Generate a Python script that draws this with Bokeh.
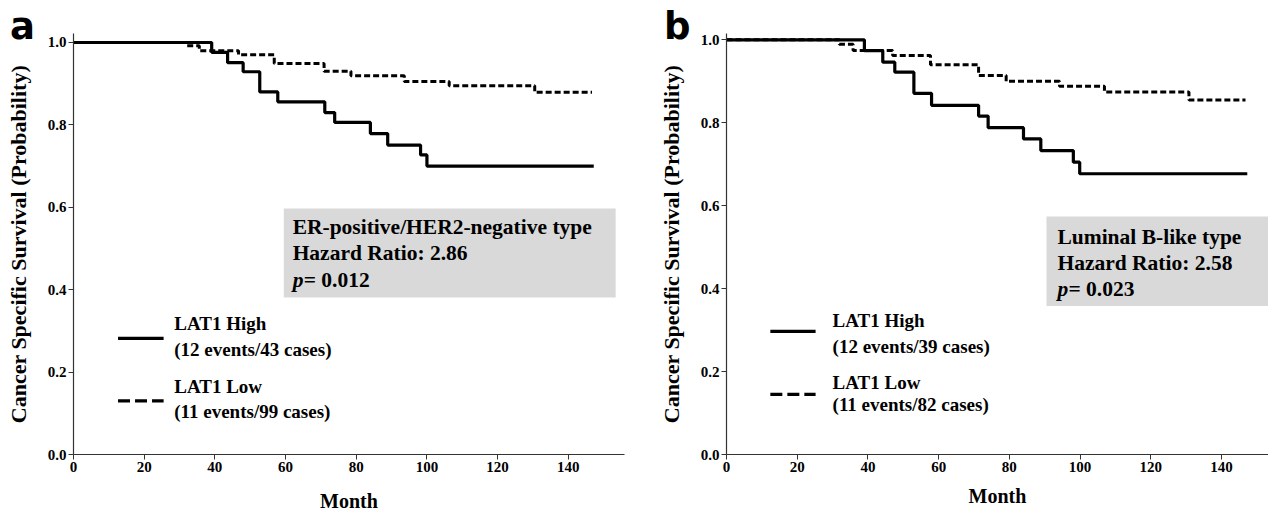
from bokeh.plotting import figure
from bokeh.layouts import row
from bokeh.models import Range1d, FixedTicker, PrintfTickFormatter, Div
from bokeh.core.properties import value
from bokeh.embed import file_html
from bokeh.resources import INLINE

# ---------------- data ----------------
# Panel a: ER-positive/HER2-negative type
a_high_month = [0, 39.1, 43.6, 48.0, 52.7, 57.8, 71.1, 73.9, 84.0, 88.9, 98.2, 100.0, 147.2]
a_high_surv = [1.0, 0.976, 0.951, 0.929, 0.880, 0.856, 0.830, 0.806, 0.779, 0.751, 0.727, 0.700, 0.700]
a_low_month = [0, 32.0, 35.6, 46.7, 56.8, 70.9, 78.5, 93.6, 106.3, 130.5, 146.7]
a_low_surv = [1.0, 0.992, 0.980, 0.970, 0.949, 0.930, 0.919, 0.905, 0.895, 0.879, 0.879]

# Panel b: Luminal B-like type
b_high_month = [0, 39.0, 44.2, 47.6, 53.0, 58.0, 71.3, 74.0, 84.0, 88.9, 98.1, 99.9, 147.3]
b_high_surv = [1.0, 0.974, 0.946, 0.922, 0.871, 0.842, 0.816, 0.788, 0.761, 0.733, 0.705, 0.677, 0.677]
b_low_month = [0, 31.9, 35.8, 47.0, 57.7, 71.3, 79.1, 94.2, 106.9, 130.8, 146.8]
b_low_surv = [1.0, 0.989, 0.974, 0.962, 0.940, 0.914, 0.900, 0.888, 0.874, 0.855, 0.855]

x_ticks = [0, 20, 40, 60, 80, 100, 120, 140]
y_ticks = [0.0, 0.2, 0.4, 0.6, 0.8, 1.0]

a_box_lines = ["ER-positive/HER2-negative type", "Hazard Ratio: 2.86"]
a_p_value = "= 0.012"
a_legend = ["LAT1 High", " (12 events/43 cases)", "LAT1 Low", " (11 events/99 cases)"]

b_box_lines = ["Luminal B-like type", "Hazard Ratio: 2.58"]
b_p_value = "= 0.023"
b_legend = ["LAT1 High", " (12 events/39 cases)", "LAT1 Low", " (11 events/82 cases)"]

panel_letters = ["a", "b"]

SERIF = value("Liberation Serif")
H = 515


def make_panel(high_m, high_s, low_m, low_s, box_lines, pval, legend,
               width, left_border, right_border, x_end, y_end, month_standoff,
               box, text_x, text_rows, leg_x, leg_sample, leg_rows):
    p = figure(width=width, height=H, output_backend="svg", toolbar_location=None,
               x_range=Range1d(0, x_end), y_range=Range1d(0, y_end),
               min_border_left=left_border, min_border_right=right_border,
               min_border_top=33, min_border_bottom=H - 454)
    p.outline_line_color = None
    p.grid.visible = False
    p.background_fill_color = "white"

    for ax in (p.xaxis[0], p.yaxis[0]):
        ax.axis_line_color = "#333333"
        ax.axis_line_width = 1.2
        ax.major_tick_line_color = "#333333"
        ax.major_tick_out = 5
        ax.major_tick_in = 0
        ax.minor_tick_out = 0
        ax.minor_tick_in = 0
        ax.major_label_text_font = "Liberation Serif"
        ax.major_label_text_font_style = "bold"
        ax.major_label_text_font_size = "15px"
        ax.major_label_text_color = "black"
        ax.axis_label_text_font = "Liberation Serif"
        ax.axis_label_text_font_style = "bold"
        ax.axis_label_text_color = "black"
        ax.major_label_standoff = 2

    p.xaxis.ticker = FixedTicker(ticks=x_ticks)
    p.yaxis.ticker = FixedTicker(ticks=y_ticks)
    p.yaxis.formatter = PrintfTickFormatter(format="%.1f")
    p.xaxis.axis_label = "Month"
    p.xaxis.axis_label_text_font_size = "20px"
    p.xaxis.axis_label_standoff = month_standoff
    p.yaxis.axis_label = "Cancer Specific Survival (Probability)"
    p.yaxis.axis_label_text_font_size = "22px"
    p.yaxis.axis_label_standoff = 14

    # annotation box
    p.quad(left=[box[0]], right=[box[1]], bottom=[box[2]], top=[box[3]],
           fill_color="#d9d9d9", line_color=None)
    p.text(x=[text_x, text_x], y=text_rows[:2], text=box_lines,
           text_font=SERIF, text_font_style="bold", text_font_size="21.5px",
           text_baseline="middle", text_align="left", text_color="black")
    p.text(x=[text_x], y=[text_rows[2]], text=["p"],
           text_font=SERIF, text_font_style="bold italic", text_font_size="21.5px",
           text_baseline="middle", text_align="left", text_color="black")
    p.text(x=[text_x], y=[text_rows[2]], text=[pval], x_offset=11,
           text_font=SERIF, text_font_style="bold", text_font_size="21.5px",
           text_baseline="middle", text_align="left", text_color="black")

    # curves
    p.step(high_m, high_s, mode="after", line_color="black", line_width=3.2)
    p.step(low_m, low_s, mode="after", line_color="black", line_width=3,
           line_dash="6 3")

    # legend
    p.segment(x0=[leg_sample[0]], x1=[leg_sample[1]], y0=[leg_sample[2]], y1=[leg_sample[2]],
              line_color="black", line_width=3.2)
    p.segment(x0=[leg_sample[0]], x1=[leg_sample[1]], y0=[leg_sample[3]], y1=[leg_sample[3]],
              line_color="black", line_width=3.2, line_dash="12 5")
    p.text(x=[leg_x] * 4, y=leg_rows, text=legend,
           text_font=SERIF, text_font_style="bold", text_font_size="19px",
           text_baseline="middle", text_align="left", text_color="black")
    return p


pa = make_panel(a_high_month, a_high_surv, a_low_month, a_low_surv,
                a_box_lines, a_p_value, a_legend,
                width=648, left_border=73, right_border=24, x_end=155.9, y_end=1.0218,
                month_standoff=15,
                box=(59.5, 153.4, 0.381, 0.597), text_x=62.0,
                text_rows=[0.551, 0.488, 0.423],
                leg_x=28.5, leg_sample=(12.6, 25.5, 0.282, 0.130),
                leg_rows=[0.318, 0.254, 0.166, 0.104])

pb = make_panel(b_high_month, b_high_surv, b_low_month, b_low_surv,
                b_box_lines, b_p_value, b_legend,
                width=620, left_border=78, right_border=0, x_end=153.3, y_end=1.0152,
                month_standoff=10,
                box=(90.5, 153.3, 0.358, 0.574), text_x=93.6,
                text_rows=[0.524, 0.461, 0.398],
                leg_x=30.0, leg_sample=(12.4, 25.2, 0.297, 0.145),
                leg_rows=[0.324, 0.261, 0.174, 0.121])


def letter_div(letter, left, top):
    return Div(text=letter, width=44, height=44,
               styles={"position": "absolute", "left": f"{left}px", "top": f"{top}px",
                       "font-family": "DejaVu Sans", "font-weight": "bold",
                       "font-size": "37px", "line-height": "1", "color": "black",
                       "z-index": "10"})


layout = row(pa, pb, letter_div(panel_letters[0], 5, 3), letter_div(panel_letters[1], 659, 3))
open("out.html", "w").write(file_html(layout, INLINE))
